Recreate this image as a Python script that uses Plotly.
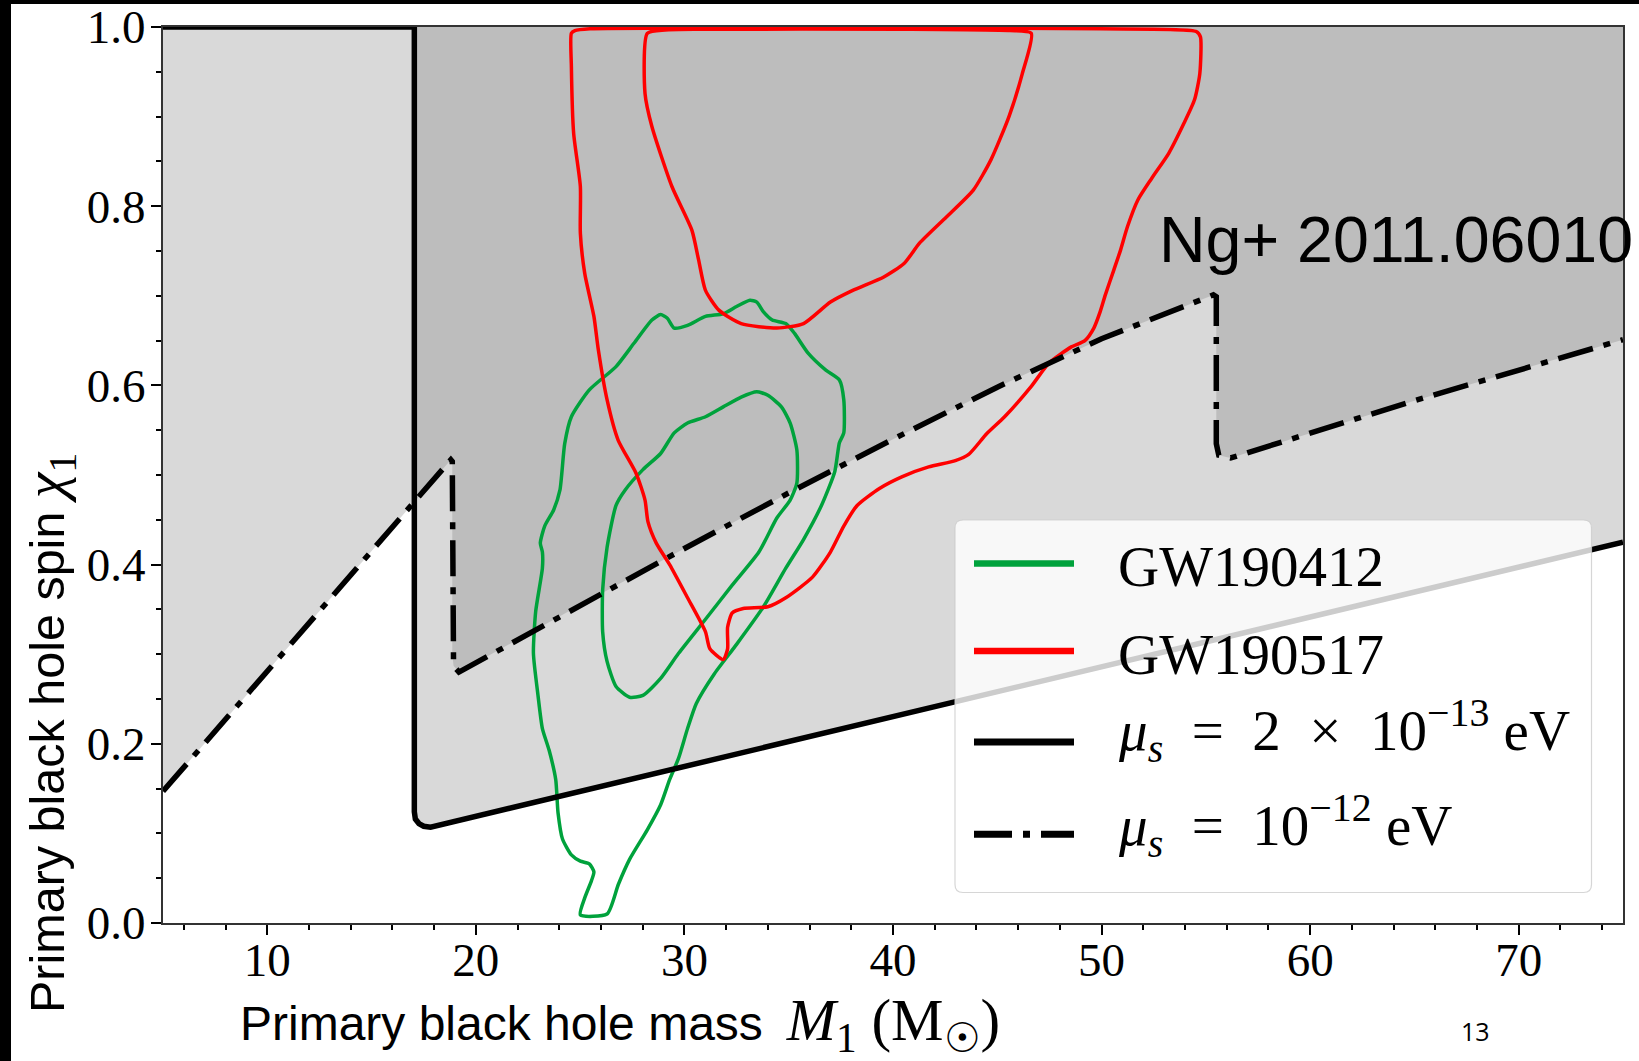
import plotly.graph_objects as go

# ---------------- data ----------------
# GW190517 contours (outer ~90%, inner ~50%)
RED_OUTER_X = [24.58, 24.58, 24.69, 25.01, 25.01, 25.22, 25.66, 25.87, 26.29, 26.82, 27.68, 28.11,
               28.25, 28.65, 29.29, 30.15, 31.01, 31.22, 31.86, 32.07, 32.07, 32.29, 32.82, 34.00,
               34.86, 36.14, 37.00, 37.64, 38.28, 39.35, 40.42, 41.71, 42.99, 43.63, 44.49, 45.35,
               46.63, 47.48, 48.55, 49.20, 49.63, 49.93, 50.18, 50.59, 50.91, 51.24, 51.74, 52.40,
               53.22, 53.96, 54.46, 54.71, 54.74, 54.54, 49.93, 40.34, 30.75, 25.47, 24.75, 24.58]
RED_OUTER_Y = [0.993, 0.956, 0.881, 0.822, 0.770, 0.725, 0.677, 0.640, 0.584, 0.539, 0.502, 0.472,
               0.448, 0.424, 0.400, 0.363, 0.325, 0.306, 0.294, 0.306, 0.330, 0.346, 0.351, 0.353,
               0.363, 0.386, 0.414, 0.443, 0.466, 0.485, 0.498, 0.509, 0.516, 0.523, 0.546, 0.565,
               0.599, 0.625, 0.643, 0.650, 0.664, 0.682, 0.701, 0.729, 0.751, 0.777, 0.807, 0.831,
               0.859, 0.893, 0.919, 0.948, 0.989, 0.995, 0.998, 0.999, 0.999, 0.998, 0.996, 0.993]
RED_INNER_X = [28.22, 28.11, 28.44, 29.40, 30.36, 30.68, 31.01, 31.65, 32.72, 34.43, 35.71, 37.00,
               38.07, 39.56, 40.53, 41.28, 42.56, 43.85, 44.70, 45.56, 46.20, 46.63, 45.61, 40.34,
               30.75, 29.07, 28.22]
RED_INNER_Y = [0.993, 0.926, 0.889, 0.822, 0.773, 0.740, 0.706, 0.684, 0.669, 0.664, 0.669, 0.693,
               0.706, 0.721, 0.736, 0.759, 0.788, 0.818, 0.852, 0.900, 0.948, 0.993, 0.996, 0.9975,
               0.9975, 0.9967, 0.993]

# GW190412 contours
GREEN_OUTER_X = [25.01, 25.22, 25.54, 25.66, 25.44, 25.01, 24.58, 24.15, 23.94, 23.83, 23.51, 23.19,
                 22.98, 22.76, 22.87, 23.19, 23.19, 23.09, 23.30, 23.73, 24.03, 24.26, 24.58, 25.44,
                 26.72, 27.58, 28.44, 28.86, 29.18, 29.51, 30.15, 31.01, 31.86, 32.50, 33.14, 33.47,
                 33.79, 34.21, 34.86, 35.28, 35.93, 36.78, 37.43, 37.64, 37.64, 37.43, 37.21, 36.57,
                 35.71, 34.86, 33.79, 32.50, 31.43, 30.57, 30.15, 29.72, 29.29, 28.86, 28.22, 27.37,
                 26.83, 26.29, 25.01]
GREEN_OUTER_Y = [0.009, 0.028, 0.047, 0.057, 0.066, 0.069, 0.076, 0.094, 0.123, 0.160, 0.193, 0.217,
                 0.254, 0.301, 0.348, 0.396, 0.414, 0.424, 0.443, 0.461, 0.483, 0.535, 0.565, 0.595,
                 0.621, 0.647, 0.673, 0.679, 0.675, 0.664, 0.667, 0.677, 0.680, 0.688, 0.695, 0.693,
                 0.682, 0.673, 0.669, 0.658, 0.636, 0.617, 0.606, 0.584, 0.547, 0.536, 0.504, 0.466,
                 0.428, 0.396, 0.353, 0.311, 0.278, 0.245, 0.217, 0.184, 0.160, 0.132, 0.104, 0.071,
                 0.043, 0.010, 0.009]
GREEN_INNER_X = [32.72, 33.47, 34.00, 34.65, 35.07, 35.39, 35.39, 35.07, 34.43, 33.57, 32.29, 31.01,
                 29.72, 28.86, 28.01, 27.37, 26.72, 26.29, 26.08, 26.08, 26.29, 26.72, 27.15, 28.01,
                 28.86, 29.51, 30.15, 31.01, 31.86, 32.72]
GREEN_INNER_Y = [0.587, 0.593, 0.589, 0.576, 0.558, 0.528, 0.491, 0.472, 0.452, 0.414, 0.377, 0.339,
                 0.301, 0.273, 0.254, 0.252, 0.264, 0.292, 0.325, 0.372, 0.419, 0.466, 0.483, 0.506,
                 0.524, 0.547, 0.558, 0.565, 0.576, 0.587]

# superradiance exclusion boundaries
SOLID_X = [5, 17.05, 17.05, 17.10, 17.27, 17.50, 17.83, 75]
SOLID_Y = [1.0, 1.0, 0.124, 0.116, 0.111, 0.108, 0.107, 0.425]
DASHDOT_X = [5, 18.80, 18.87, 18.87, 18.93, 19.19, 25, 30, 35, 40, 45, 50, 55.36, 55.50, 55.50,
             55.62, 56.19, 65, 75]
DASHDOT_Y = [0.147, 0.517, 0.515, 0.300, 0.287, 0.280, 0.355, 0.418, 0.480, 0.540, 0.598, 0.652,
             0.701, 0.699, 0.535, 0.522, 0.519, 0.583, 0.651]

X_RANGE = [5, 75]
Y_RANGE = [0, 1]
X_TICKS = [10, 20, 30, 40, 50, 60, 70]
Y_TICKS = [0.0, 0.2, 0.4, 0.6, 0.8, 1.0]

LEGEND_LABELS = ["GW190412", "GW190517",
                 "<i>μ</i><sub><i>s</i></sub>\u2002=\u20022\u2002×\u200210<sup>−13</sup> eV",
                 "<i>μ</i><sub><i>s</i></sub>\u2002=\u200210<sup>−12</sup> eV"]
CITATION = "Ng+ 2011.06010"
PAGE_NUMBER = "13"

# ---------------- styles ----------------
GREEN = "#00a23c"
RED = "#ff0000"
FILL = "rgba(117,117,117,0.28)"
SERIF = "Liberation Serif"
SANS = "Liberation Sans"
DASHDOT = "36px,11px,7px,11px"

W, H = 1639, 1061
ML, MR, MT, MB = 163, 16, 27, 138
PW = W - ML - MR
PH = H - MT - MB


def pxx(x):
    return (x - ML) / PW


def pxy(y):
    return (H - MB - y) / PH


fig = go.Figure()

# excluded regions (shaded)
fig.add_trace(go.Scatter(x=DASHDOT_X + [X_RANGE[1], X_RANGE[0]],
                         y=DASHDOT_Y + [Y_RANGE[1], Y_RANGE[1]],
                         fill="toself", fillcolor=FILL, mode="none",
                         hoverinfo="skip", showlegend=False))
fig.add_trace(go.Scatter(x=SOLID_X[1:] + [X_RANGE[1]],
                         y=SOLID_Y[1:] + [Y_RANGE[1]],
                         fill="toself", fillcolor=FILL, mode="none",
                         hoverinfo="skip", showlegend=False))

# posterior contours
for xs, ys, col, name in [(GREEN_OUTER_X, GREEN_OUTER_Y, GREEN, "GW190412"),
                          (GREEN_INNER_X, GREEN_INNER_Y, GREEN, "GW190412"),
                          (RED_OUTER_X, RED_OUTER_Y, RED, "GW190517"),
                          (RED_INNER_X, RED_INNER_Y, RED, "GW190517")]:
    fig.add_trace(go.Scatter(x=xs, y=ys, mode="lines", name=name,
                             line=dict(color=col, width=3.5, shape="spline", smoothing=0.6),
                             showlegend=False))

fig.add_trace(go.Scatter(x=DASHDOT_X, y=DASHDOT_Y, mode="lines", name="mu=1e-12 eV",
                         line=dict(color="black", width=5.5, dash=DASHDOT), showlegend=False))
fig.add_trace(go.Scatter(x=SOLID_X, y=SOLID_Y, mode="lines", name="mu=2e-13 eV",
                         line=dict(color="black", width=5.5), showlegend=False))

axis_common = dict(showgrid=False, zeroline=False, showline=True, linecolor="#333333",
                   linewidth=2, mirror=True, ticks="outside", ticklen=10, tickwidth=2,
                   tickcolor="black", automargin=False,
                   tickfont=dict(family=SERIF, size=47, color="black"))
fig.update_xaxes(range=X_RANGE, tickvals=X_TICKS, ticklabelstandoff=-15,
                 minor=dict(ticks="outside", ticklen=5, tickwidth=1.5, tickcolor="black",
                            dtick=2, tick0=0, showgrid=False),
                 **axis_common)
fig.update_yaxes(range=Y_RANGE, tickvals=Y_TICKS, tickformat=".1f", ticklabelstandoff=-4,
                 minor=dict(ticks="outside", ticklen=5, tickwidth=1.5, tickcolor="black",
                            dtick=0.05, tick0=0, showgrid=False),
                 **axis_common)

shapes = []
# slide frame (black bands at top and left)
shapes.append(dict(type="rect", xref="paper", yref="paper", x0=pxx(0), x1=pxx(11),
                   y0=pxy(H), y1=pxy(0), fillcolor="black", line=dict(width=0), layer="above"))
shapes.append(dict(type="rect", xref="paper", yref="paper", x0=pxx(0), x1=pxx(W),
                   y0=pxy(4), y1=pxy(0), fillcolor="black", line=dict(width=0), layer="above"))

# legend box (rounded, semi-transparent)
x0, x1, y0, y1 = pxx(955), pxx(1591.5), pxy(892.5), pxy(520)
rx, ry = 8 / PW, 8 / PH
path = (f"M{x0+rx},{y1} L{x1-rx},{y1} Q{x1},{y1} {x1},{y1-ry} L{x1},{y0+ry} "
        f"Q{x1},{y0} {x1-rx},{y0} L{x0+rx},{y0} Q{x0},{y0} {x0},{y0+ry} "
        f"L{x0},{y1-ry} Q{x0},{y1} {x0+rx},{y1} Z")
shapes.append(dict(type="path", xref="paper", yref="paper", path=path,
                   fillcolor="rgba(255,255,255,0.8)", line=dict(color="rgba(204,204,204,0.8)", width=1.2),
                   layer="above"))
leg_rows = [563.6, 651.0, 742.0, 834.2]
leg_styles = [dict(color=GREEN, width=6.5), dict(color=RED, width=6.5),
              dict(color="black", width=7), dict(color="black", width=7, dash="38px,11px,7px,11px")]
for yrow, st in zip(leg_rows, leg_styles):
    shapes.append(dict(type="line", xref="paper", yref="paper", x0=pxx(974), x1=pxx(1074),
                       y0=pxy(yrow), y1=pxy(yrow), line=st, layer="above"))

annotations = []
leg_text_y = [566.5, 654.5, 730.5, 825.0]
for lab, yc in zip(LEGEND_LABELS, leg_text_y):
    annotations.append(dict(xref="paper", yref="paper", x=pxx(1116), y=pxy(yc), text=lab,
                            showarrow=False, xanchor="left", yanchor="middle",
                            font=dict(family=SERIF, size=57, color="black")))

annotations.append(dict(xref="paper", yref="paper", x=pxx(1157), y=pxy(240), text=CITATION,
                        showarrow=False, xanchor="left", yanchor="middle",
                        font=dict(family=SANS, size=64.5, color="black")))

annotations.append(dict(xref="paper", yref="paper", x=pxx(238), y=pxy(1024),
                        text=('Primary black hole mass\u2002<span style="font-family:Liberation Serif;'
                              'font-size:59px"><i>M</i><sub>1</sub> (M<sub>☉</sub>)</span>'),
                        showarrow=False, xanchor="left", yanchor="middle",
                        font=dict(family=SANS, size=48, color="black")))
annotations.append(dict(xref="paper", yref="paper", x=pxx(48), y=pxy(733),
                        text=('Primary black hole spin <span style="font-family:Liberation Serif;'
                              'font-size:58px"><i>χ</i><sub>1</sub></span>'),
                        showarrow=False, textangle=-90, xanchor="center", yanchor="middle",
                        font=dict(family=SANS, size=48.5, color="black")))
annotations.append(dict(xref="paper", yref="paper", x=pxx(1475.5), y=pxy(1030.5), text=PAGE_NUMBER,
                        showarrow=False, xanchor="center", yanchor="middle",
                        font=dict(family="Open Sans", size=25, color="black")))

fig.update_layout(width=W, height=H, margin=dict(l=ML, r=MR, t=MT, b=MB, pad=0),
                  paper_bgcolor="white", plot_bgcolor="white", showlegend=False,
                  shapes=shapes, annotations=annotations)

fig.write_html("out.html", config={"displayModeBar": False},
               post_script="document.body.style.margin='0';")
